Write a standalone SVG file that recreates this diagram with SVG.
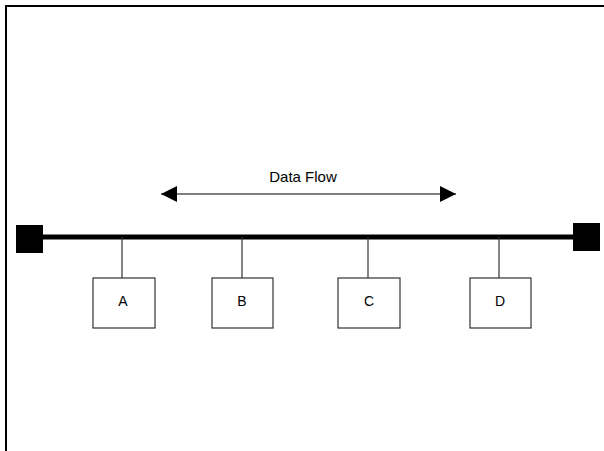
<svg xmlns="http://www.w3.org/2000/svg" width="604" height="451" viewBox="0 0 604 451">
<style>
.frame{fill:none;stroke:#000;stroke-width:2}
.bus{stroke:#000;stroke-width:5}
.term{fill:#000}
.stub{stroke:#333;stroke-width:1.2}
.box{fill:#fff;stroke:#333;stroke-width:1.2}
.lbl{font-family:"Liberation Sans",Arial,sans-serif;font-size:14px;fill:#000;text-anchor:middle}
.flow{stroke:#000;stroke-width:1.2}
</style>
<defs>
<marker id="ah" viewBox="0 0 16 16" refX="16" refY="8" markerWidth="16" markerHeight="16" markerUnits="userSpaceOnUse" orient="auto-start-reverse">
<path d="M0,0 L16,8 L0,16 Z" fill="#000"/>
</marker>
</defs>
<rect width="604" height="451" fill="#fff"/>
<path class="frame" d="M6,451 V6 H604"/>
<g id="connectors">
<line class="bus" x1="30" y1="237" x2="586" y2="237"/>
<line class="stub" x1="122" y1="237" x2="122" y2="278"/>
<line class="stub" x1="242" y1="237" x2="242" y2="278"/>
<line class="stub" x1="368" y1="237" x2="368" y2="278"/>
<line class="stub" x1="499" y1="237" x2="499" y2="278"/>
<line class="flow" x1="161" y1="194" x2="456" y2="194" marker-start="url(#ah)" marker-end="url(#ah)"/>
</g>
<g id="flow-label">
<text class="lbl" x="303" y="182" style="font-size:15px">Data Flow</text>
</g>
<g id="term-left"><rect class="term" x="16" y="225" width="27" height="28"/></g>
<g id="term-right"><rect class="term" x="573" y="223" width="27" height="28"/></g>
<g id="node-A"><rect class="box" x="93" y="278" width="62" height="50"/><text class="lbl" x="123" y="306">A</text></g>
<g id="node-B"><rect class="box" x="212" y="278" width="61" height="50"/><text class="lbl" x="242" y="306">B</text></g>
<g id="node-C"><rect class="box" x="338" y="278" width="62" height="50"/><text class="lbl" x="369" y="306">C</text></g>
<g id="node-D"><rect class="box" x="470" y="278" width="61" height="50"/><text class="lbl" x="500" y="306">D</text></g>
</svg>
